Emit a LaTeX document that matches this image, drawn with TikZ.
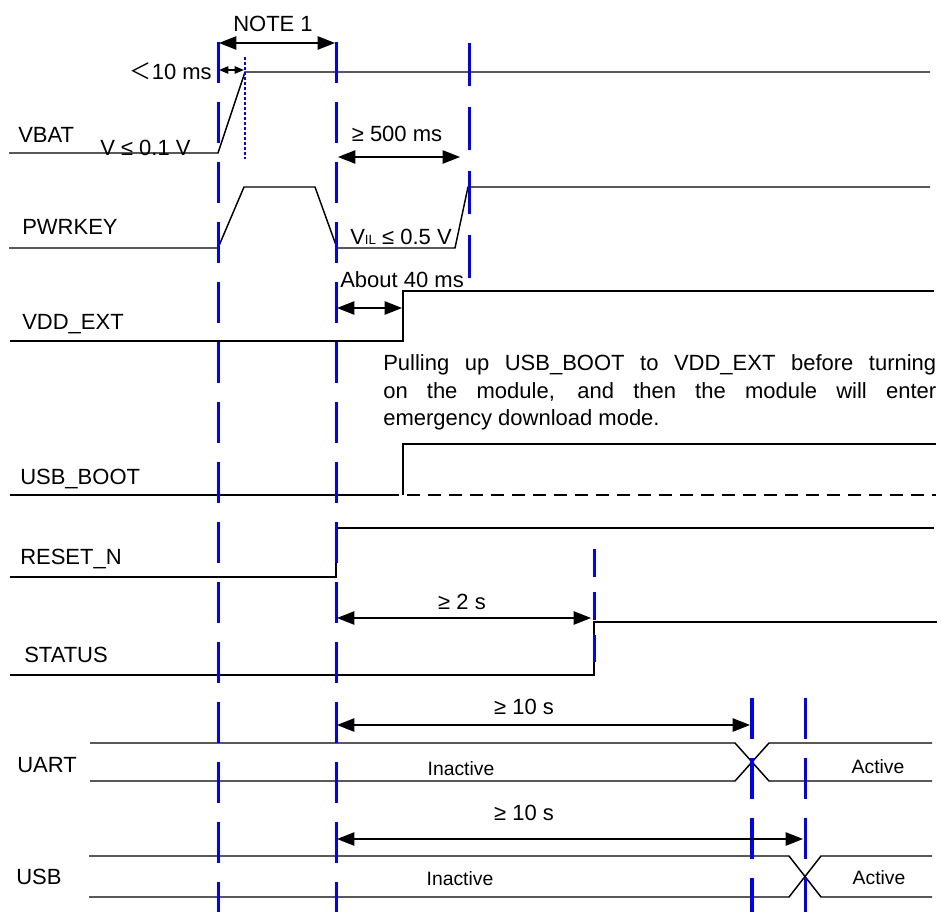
\documentclass[tikz,border=0pt]{standalone}
\usepackage{fontspec}
\setmainfont{Liberation Sans}
\newfontfamily\cjkfont{Noto Sans CJK SC}
\usetikzlibrary{arrows.meta}

\begin{document}
\begin{tikzpicture}[
    x=0.75pt, y=-0.75pt,
    sig/.style={black, line width=1.1pt},
    guide/.style={blue, line width=2.25pt, dash pattern=on 30.75pt off 14.25pt},
    dim/.style={black, line width=1.1pt, {Triangle[length=13pt,width=10pt]}-{Triangle[length=13pt,width=10pt]}},
    dimsmall/.style={black, line width=1.1pt, {Triangle[length=7pt,width=5.5pt]}-{Triangle[length=7pt,width=5.5pt]}},
    lbl/.style={font=\fontsize{16.5pt}{20pt}\selectfont, inner sep=0pt},
    small/.style={font=\fontsize{14.5pt}{17pt}\selectfont, inner sep=0pt},
    ]
    \useasboundingbox (0,0) rectangle (941,912);

    %Coordinates
    \coordinate (n1a) at (219,43);
    \coordinate (n1b) at (335,43);
    \coordinate (r10a) at (219,70);
    \coordinate (r10b) at (244,70);
    \coordinate (p5a) at (338,157);
    \coordinate (p5b) at (460,157);
    \coordinate (v40a) at (337,308);
    \coordinate (v40b) at (402,308);
    \coordinate (s2a) at (337,618);
    \coordinate (s2b) at (591,618);
    \coordinate (u10a) at (337,725);
    \coordinate (u10b) at (750,725);
    \coordinate (b10a) at (337,839);
    \coordinate (b10b) at (803,839);

    %Labels
    \node[lbl, anchor=base west] (vbat) at (18,143) {VBAT};
    \node[lbl, anchor=base west] (pwrkey) at (22,235) {PWRKEY};
    \node[lbl, anchor=base west] (vddext) at (22,330) {VDD\_EXT};
    \node[lbl, anchor=base west] (usbboot) at (20,484) {USB\_BOOT};
    \node[lbl, anchor=base west] (resetn) at (20,564) {RESET\_N};
    \node[lbl, anchor=base west] (status) at (24,662) {STATUS};
    \node[lbl, anchor=base west] (uart) at (17,772) {UART};
    \node[lbl, anchor=base west] (usb) at (16,884) {USB};

    %Signals
    \draw[sig] (9,153) -- (218,153) -- (245,72) -- (930,72);
    \draw[sig] (9,248) -- (218,248) -- (244,187) -- (315,187) -- (337,248)
        -- (455,248) -- (468,187) -- (930,187);
    \draw[sig] (10,341) -- (403,341) -- (403,291) -- (934,291);
    \draw[sig] (10,495) -- (386,495);
    \draw[sig, dash pattern=on 9.75pt off 6pt] (386,495) -- (936,495);
    \draw[sig] (403,495) -- (403,444) -- (936,444);
    \draw[sig] (10,577) -- (336,577) -- (336,528) -- (934,528);
    \draw[sig] (10,675) -- (594,675) -- (594,622) -- (937,622);
    \draw[sig] (90,743) -- (735,743) -- (769,781) -- (932,781);
    \draw[sig] (90,781) -- (735,781) -- (769,743) -- (932,743);
    \draw[sig] (89,856) -- (789,856) -- (821,897) -- (932,897);
    \draw[sig] (89,897) -- (789,897) -- (821,856) -- (932,856);

    %Guides
    \draw[guide] (218,42) -- (218,912);
    \draw[guide] (336,42) -- (336,912);
    \draw[guide, dash pattern=on 32.25pt off 15.75pt] (469,43) -- (469,278);
    \draw[guide, dash pattern=on 21pt off 11.25pt] (594,549) -- (594,662);
    \draw[guide, line width=3pt] (752,698) -- (752,912);
    \draw[guide] (805,698) -- (805,912);
    \draw[blue, line width=1.5pt, dash pattern=on 2.25pt off 1.5pt] (245,57) -- (245,159);

    %Arrows
    \draw[dim] (n1a) -- (n1b);
    \draw[dimsmall] (r10a) -- (r10b);
    \draw[dim] (p5a) -- (p5b);
    \draw[dim] (v40a) -- (v40b);
    \draw[dim] (s2a) -- (s2b);
    \draw[dim] (u10a) -- (u10b);
    \draw[dim] (b10a) -- (b10b);

    %Texts
    \node[lbl, anchor=base] (note) at (273,32) {NOTE 1};
    \node[lbl, anchor=base east] (lt10) at (212,80) {{\cjkfont ＜}10 ms};
    \node[lbl, anchor=base west] (vlow) at (100,156) {V ≤ 0.1 V};
    \node[lbl, anchor=base] (t500) at (397,142) {≥ 500 ms};
    \node[lbl, anchor=base west] (vil) at (350,245) {V{\fontsize{10pt}{10pt}\selectfont IL} ≤ 0.5 V};
    \node[lbl, anchor=base west] (t40) at (340,288) {About 40 ms};
    \node[lbl, anchor=base west] (pull1) at (383,371) {\makebox[414.75pt][s]{Pulling up USB\_BOOT to VDD\_EXT before turning}};
    \node[lbl, anchor=base west] (pull2) at (383,398) {\makebox[414.75pt][s]{on the module, and then the module will enter}};
    \node[lbl, anchor=base west] (pull3) at (383,425) {emergency download mode.};
    \node[lbl, anchor=base] (t2s) at (462,609) {≥ 2 s};
    \node[lbl, anchor=base] (t10u) at (524,714) {≥ 10 s};
    \node[lbl, anchor=base] (t10b) at (524,820) {≥ 10 s};
    \node[small, anchor=base] (inu) at (461,775) {Inactive};
    \node[small, anchor=base] (acu) at (878,773) {Active};
    \node[small, anchor=base] (inb) at (460,885) {Inactive};
    \node[small, anchor=base] (acb) at (879,884) {Active};
\end{tikzpicture}
\end{document}
